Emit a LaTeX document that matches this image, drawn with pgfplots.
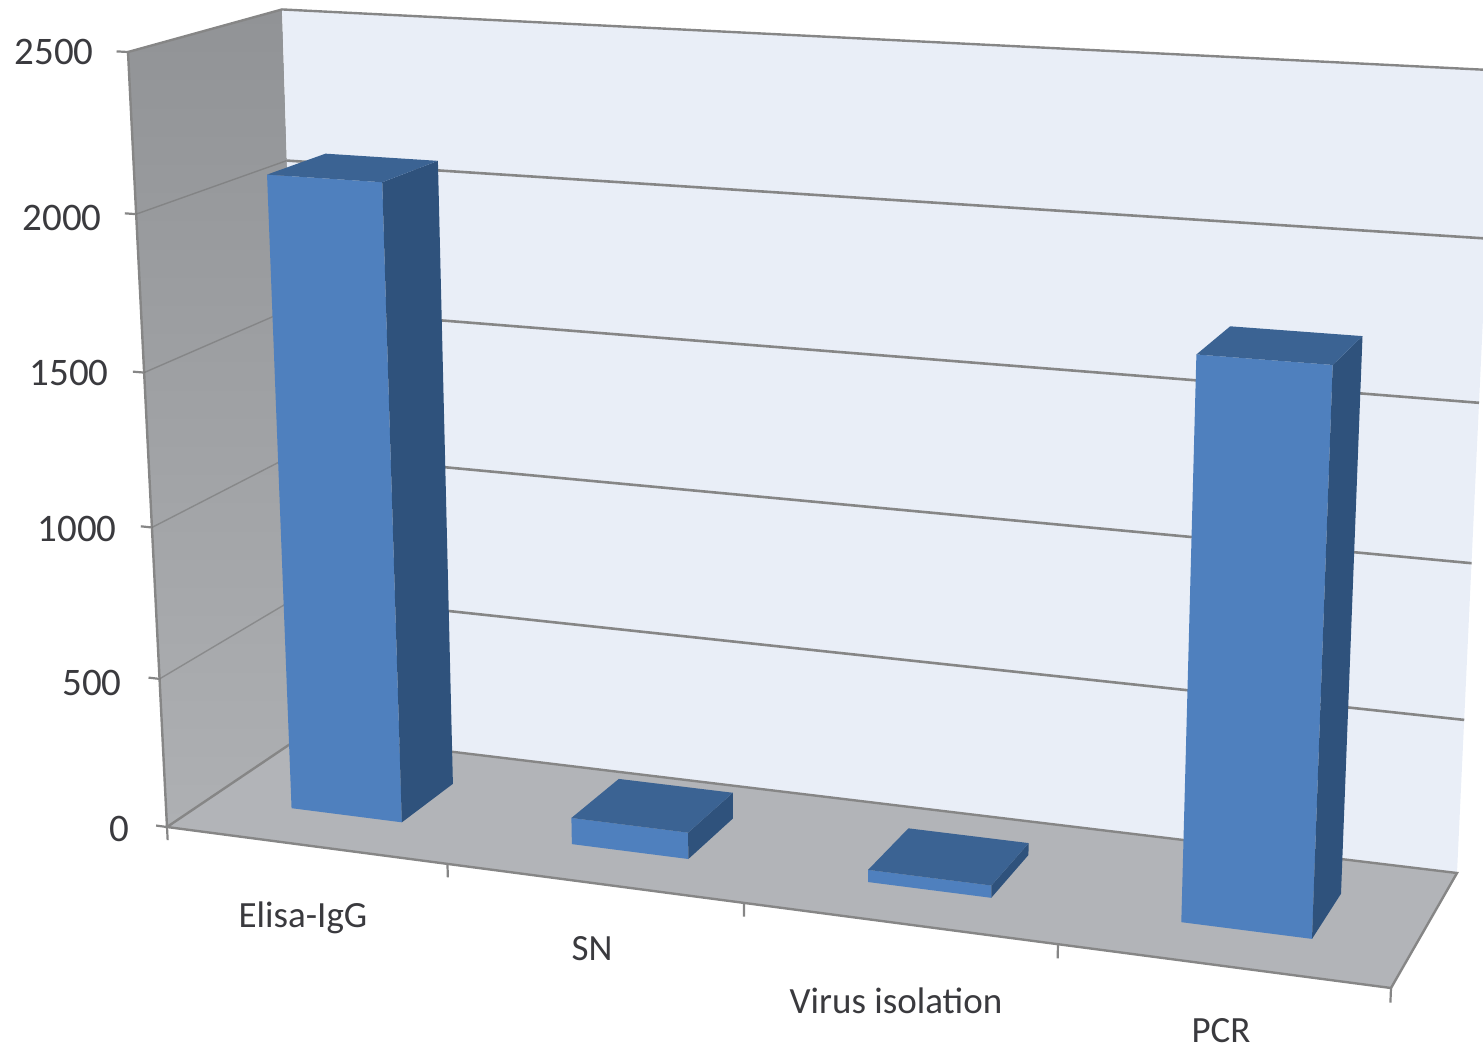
\documentclass[border=0pt]{standalone}
\usepackage{pgfplots}
\pgfplotsset{compat=1.18}
\usepackage{fontspec}
\setmainfont{Carlito}

\definecolor{barfront}{RGB}{79,128,190}
\definecolor{barside}{RGB}{47,82,124}
\definecolor{bartop}{RGB}{59,99,147}
\definecolor{edgegray}{RGB}{134,134,134}
\definecolor{labelgray}{RGB}{58,58,62}

% Perspective of the 3-D chart box: category (0..4), depth (0..1), value (0..2500).
\newcommand{\denom}{(1-0.027065*\thisrow{cat}+0.0687*\thisrow{depth}-0.055*\thisrow{z}/2500)}
\newcommand{\projx}{(268.35*\thisrow{cat}+158.95*\thisrow{depth}-46.04*\thisrow{z}/2500+6*\thisrow{depth}*(1-\thisrow{cat}/4)*\thisrow{z}/2500+167)/\denom}
\newcommand{\projy}{(13.51*\thisrow{cat}-42.57*\thisrow{depth}-777.86*\thisrow{z}/2500+3*\thisrow{depth}*\thisrow{z}/2500+827)/\denom}

% One column: category index, value.
\newcommand{\barfaces}[2]{%
  \addplot[fill=barfront,draw=none] table {cat depth z\\ #1.3 0.3 0\\ #1.7 0.3 0\\ #1.7 0.3 #2\\ #1.3 0.3 #2\\};
  \addplot[fill=barside,draw=none] table {cat depth z\\ #1.7 0.3 0\\ #1.7 0.7 0\\ #1.7 0.7 #2\\ #1.7 0.3 #2\\};
  \addplot[fill=bartop,draw=none] table {cat depth z\\ #1.3 0.3 #2\\ #1.7 0.3 #2\\ #1.7 0.7 #2\\ #1.3 0.7 #2\\};
}
% Value gridline on both walls, with its tick.
\newcommand{\gridlevel}[1]{%
  \addplot[edgegray!85!black,line width=0.7pt,opacity=0.55] table {cat depth z\\ 0 0 #1\\ 0 1 #1\\};
  \addplot[edgegray,line width=1.3pt] table {cat depth z\\ 0 1 #1\\ 4 1 #1\\};
  \addplot[edgegray,line width=1.1pt] table {cat depth z\\ -0.04 0 #1\\ 0 0 #1\\};
}
\newcommand{\xtickmark}[1]{%
  \addplot[edgegray,line width=1.1pt] table {cat depth z\\ #1 0 0\\ #1 0 -45\\};
}

\begin{document}
\begin{tikzpicture}
\begin{axis}[
  scale only axis, width=741.5pt, height=524.5pt,
  xmin=0, xmax=1483, ymin=0, ymax=1049, y dir=reverse,
  hide axis, clip=true, clip mode=individual,
  table/row sep=\\,
  table/x expr=\projx,
  table/y expr=\projy,
]
% side wall
\addplot[shade,top color={rgb,255:red,145;green,147;blue,150},bottom color={rgb,255:red,174;green,176;blue,179},draw=none]
  table {cat depth z\\ 0 0 0\\ 0 1 0\\ 0 1 2500\\ 0 0 2500\\};
% back wall
\addplot[fill={rgb,255:red,233;green,238;blue,247},draw=none]
  table {cat depth z\\ 0 1 0\\ 4 1 0\\ 4 1 2500\\ 0 1 2500\\};
% floor
\addplot[fill={rgb,255:red,178;green,180;blue,184},draw=none]
  table {cat depth z\\ 0 0 0\\ 4 0 0\\ 4 1 0\\ 0 1 0\\};
% outline of the box
\addplot[edgegray,line width=1.2pt] table {cat depth z\\ 0 0 0\\ 0 0 2500\\ 0 1 2500\\ 4 1 2500\\};
\addplot[edgegray,line width=1.2pt] table {cat depth z\\ 0 1 0\\ 4 1 0\\ 4 0 0\\ 0 0 0\\ 0 1 0\\};
\addplot[edgegray,line width=1.1pt] table {cat depth z\\ -0.04 0 2500\\ 0 0 2500\\};
\addplot[edgegray,line width=1.1pt] table {cat depth z\\ -0.04 0 0\\ 0 0 0\\};
\gridlevel{500}
\gridlevel{1000}
\gridlevel{1500}
\gridlevel{2000}
\xtickmark{0}
\xtickmark{1}
\xtickmark{2}
\xtickmark{3}
\xtickmark{4}
% columns
\barfaces{0}{2090}
\barfaces{1}{88}
\barfaces{2}{40}
\barfaces{3}{1745}
% labels
\begin{scope}[every node/.style={font=\fontsize{18.5}{20}\selectfont,text=labelgray,inner sep=0pt}]
\begin{scope}[every node/.append style={font=\fontsize{19.5}{21}\selectfont}]
\node at (axis cs:54,52) {2500};
\node at (axis cs:62,218) {2000};
\node at (axis cs:69,373) {1500};
\node at (axis cs:77,529) {1000};
\node at (axis cs:92,683) {500};
\node at (axis cs:119,829) {0};
\end{scope}
\node at (axis cs:303,918) {Elisa-IgG};
\node at (axis cs:592,949) {SN};
\node at (axis cs:896,1001) {Virus isolation};
\node at (axis cs:1221,1031) {PCR};
\end{scope}
% the picture keeps the full plotting area
\path (axis cs:0,0) rectangle (axis cs:1483,1049);
\end{axis}
\end{tikzpicture}
\end{document}
